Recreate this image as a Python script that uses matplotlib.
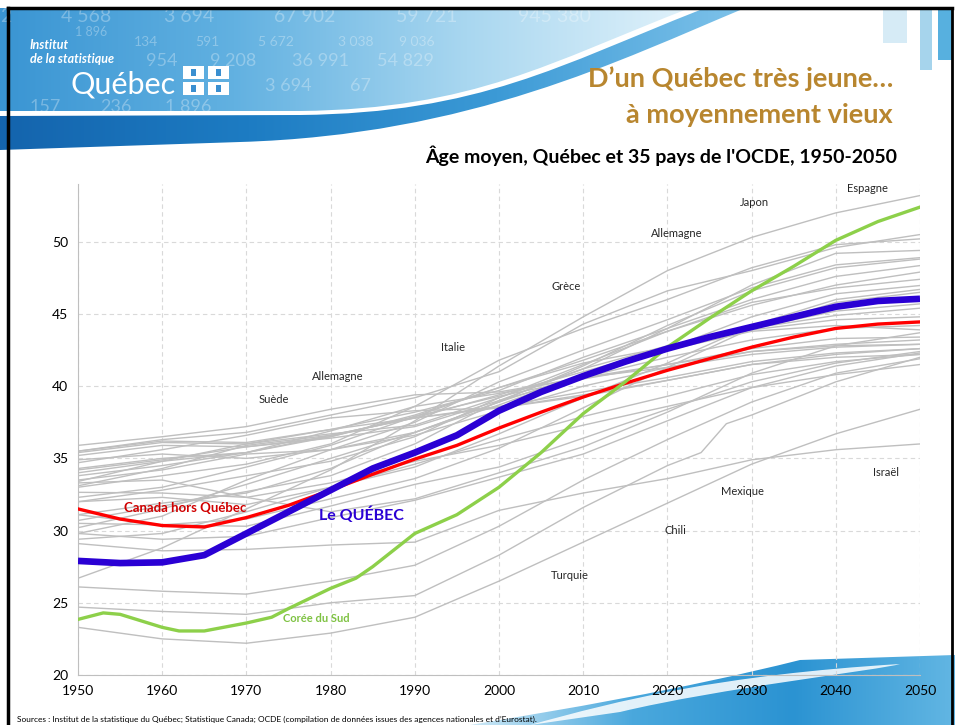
import numpy as np
import matplotlib
matplotlib.use('Agg')
import matplotlib.pyplot as plt
from matplotlib.path import Path
from matplotlib.patches import PathPatch, Rectangle
from matplotlib.colors import LinearSegmentedColormap

plt.rcParams['font.family'] = ['Lato', 'DejaVu Sans']

# ---- data (âge moyen) ----
years = [1950, 1960, 1970, 1980, 1990, 2000, 2010, 2020, 2030, 2040, 2050]

# autres pays de l'OCDE, en gris
gray_lines = [
    [35.9, 36.5, 37.2, 38.4, 39.4, 39.6, 40.6, 41.3, 42.2, 42.7, 42.9],  # Suède
    [35.5, 36.3, 36.8, 38.0, 39.2, 41.0, 44.3, 46.6, 48.0, 49.6, 50.5],  # Allemagne
    [33.0, 33.8, 34.6, 36.0, 38.6, 41.8, 44.0, 46.0, 48.2, 49.8, 50.2],  # Italie
    [30.7, 31.7, 32.7, 33.8, 36.0, 39.0, 41.2, 44.0, 47.0, 49.2, 49.4],  # Espagne
    [29.8, 31.0, 33.5, 35.6, 37.5, 40.3, 42.5, 44.6, 46.8, 48.4, 48.9],  # Grèce
    [30.2, 31.5, 33.2, 35.0, 36.8, 38.9, 41.4, 44.2, 46.6, 48.2, 48.8],  # Portugal
    [35.4, 36.1, 36.0, 37.0, 38.2, 39.7, 42.0, 44.0, 46.0, 47.6, 48.35],  # Autriche
    [34.3, 35.0, 35.4, 36.5, 38.0, 39.9, 41.8, 43.8, 45.6, 47.0, 47.9],  # Suisse
    [32.0, 32.8, 33.8, 34.8, 36.5, 39.2, 41.5, 43.8, 45.8, 46.8, 47.4],  # Slovénie
    [33.5, 34.2, 35.3, 35.6, 36.8, 38.9, 40.8, 42.6, 44.8, 46.4, 46.97],  # Tchéquie
    [29.4, 29.8, 31.3, 33.0, 34.4, 36.7, 39.2, 41.6, 44.2, 46.0, 46.7],  # Pologne
    [30.5, 30.4, 30.8, 32.2, 33.6, 35.7, 38.5, 41.3, 44.0, 45.8, 46.5],  # Slovaquie
    [33.4, 34.8, 36.0, 36.7, 37.3, 39.2, 41.2, 42.8, 44.0, 45.2, 45.7],  # Lettonie
    [33.1, 34.3, 35.9, 36.6, 37.8, 39.4, 41.0, 42.6, 44.0, 44.9, 45.4],  # Hongrie
    [32.3, 33.0, 34.4, 35.9, 37.9, 39.9, 41.6, 42.7, 43.9, 44.6, 44.8],  # Finlande
    [34.2, 34.9, 35.8, 36.4, 37.2, 39.0, 40.6, 42.0, 43.2, 44.0, 44.2],  # Estonie
    [31.1, 31.9, 32.6, 34.3, 36.8, 38.7, 40.8, 42.5, 43.8, 44.2, 43.9],  # Pays-Bas
    [33.3, 33.5, 32.3, 31.3, 32.2, 34.0, 35.8, 38.2, 40.9, 42.8, 43.7],  # Irlande
    [34.0, 34.8, 35.4, 36.9, 38.6, 39.5, 40.6, 41.5, 42.6, 43.3, 43.4],  # Danemark
    [35.2, 35.9, 35.8, 36.5, 37.9, 39.3, 40.5, 41.5, 42.4, 42.9, 43.2],  # Belgique
    [34.9, 35.3, 35.0, 35.6, 36.6, 38.3, 40.0, 41.3, 42.4, 42.8, 42.9],  # France
    [35.5, 36.2, 36.1, 37.0, 37.8, 38.6, 39.6, 40.6, 41.7, 42.3, 42.6],  # Royaume-Uni
    [34.7, 35.6, 36.6, 37.8, 38.3, 38.5, 39.3, 40.4, 41.5, 42.0, 42.2],  # Luxembourg
    [33.8, 34.5, 35.4, 36.6, 37.8, 38.5, 39.4, 40.4, 41.5, 42.2, 42.6],  # Norvège
    [32.65, 32.6, 32.3, 33.3, 34.8, 35.9, 37.3, 38.6, 39.9, 40.8, 41.5],  # États-Unis
    [32.0, 32.3, 31.8, 33.0, 34.6, 36.3, 37.9, 39.3, 40.8, 41.7, 42.2],  # Australie
    [31.1, 30.4, 30.3, 31.7, 33.2, 34.4, 36.4, 38.4, 40.3, 41.6, 42.4],  # Nouvelle-Zélande
    [29.8, 29.4, 29.6, 30.9, 32.1, 33.7, 35.3, 37.6, 39.9, 41.4, 42.3],  # Islande
    [26.7, 28.8, 31.5, 34.2, 37.6, 41.4, 44.8, 48.0, 50.3, 52.0, 53.2],  # Japon
    [29.1, 28.6, 28.7, 29.0, 29.2, 31.4, 32.6, 33.6, 34.9, 35.6, 36.0],  # Israël
    [26.1, 25.8, 25.6, 26.5, 27.6, 30.3, 33.5, 36.3, 38.9, 40.9, 41.9],  # Chili
    [23.3, 22.5, 22.2, 22.9, 24.0, 26.5, 29.2, 31.9, 34.6, 36.7, 38.4],  # Turquie
]
mexique_years = [1950, 1960, 1970, 1980, 1990, 2000, 2010, 2020, 2024, 2027, 2030, 2040, 2050]
mexique_ages = [24.7, 24.4, 24.2, 25.0, 25.5, 28.3, 31.6, 34.5, 35.4, 37.4, 38.0, 40.3, 42.0]

years5 = list(range(1950, 2051, 5))
quebec = [27.9, 27.75, 27.8, 28.3, 29.8, 31.3, 32.8, 34.3, 35.4, 36.6, 38.3,
          39.6, 40.7, 41.7, 42.6, 43.4, 44.1, 44.8, 45.5, 45.9, 46.05]
canada_hq = [31.5, 30.8, 30.35, 30.25, 30.9, 31.75, 32.8, 33.9, 34.95, 35.9, 37.1,
             38.2, 39.25, 40.2, 41.1, 41.9, 42.7, 43.4, 44.0, 44.3, 44.45]
coree_years = [1950, 1953, 1955, 1960, 1962, 1965, 1970, 1973, 1975, 1980, 1983, 1985,
               1990, 1995, 2000, 2005, 2010, 2015, 2020, 2025, 2030, 2035, 2040, 2045, 2050]
coree = [23.85, 24.3, 24.2, 23.3, 23.05, 23.05, 23.6, 24.0, 24.6, 26.0, 26.7, 27.5,
         29.8, 31.1, 33.0, 35.4, 38.1, 40.3, 42.7, 44.7, 46.6, 48.3, 50.1, 51.4, 52.4]

country_labels = [
    ('Suède', 1973.3, 39.1), ('Allemagne', 1980.9, 40.7), ('Italie', 1994.5, 42.7),
    ('Grèce', 2008.0, 46.9), ('Allemagne', 2021.1, 50.6), ('Japon', 2030.3, 52.7),
    ('Espagne', 2043.8, 53.7), ('Israël', 2046.0, 34.05), ('Mexique', 2028.9, 32.7),
    ('Chili', 2021.0, 30.0), ('Turquie', 2008.4, 26.9),
]

# ---- figure ----
fig = plt.figure(figsize=(9.55, 7.25), dpi=100)
bg = fig.add_axes([0, 0, 1, 1], zorder=0)
bg.set_xlim(0, 955)
bg.set_ylim(725, 0)
bg.axis('off')

# bandeau bleu en haut a gauche
light = Path([(0, 8), (690, 8), (550, 62), (475, 109), (300, 111), (0, 111), (0, 8)],
             [Path.MOVETO, Path.LINETO, Path.CURVE4, Path.CURVE4, Path.CURVE4,
              Path.LINETO, Path.CLOSEPOLY])
light_patch = PathPatch(light, fc='none', ec='none')
bg.add_patch(light_patch)
grad = np.linspace(0, 1, 256).reshape(1, -1)
cm1 = LinearSegmentedColormap.from_list('b1', ['#3a95d3', '#62b1e1', '#a9d7f0', '#e3f3fb'])
im1 = bg.imshow(grad, extent=[0, 700, 115, 8], cmap=cm1, aspect='auto', zorder=1)
im1.set_clip_path(light_patch)

dark = Path([(0, 116), (300, 115), (480, 113), (560, 65), (700, 10), (745, 8),
             (620, 60), (470, 135), (240, 142), (0, 150), (0, 116)],
            [Path.MOVETO, Path.LINETO, Path.CURVE4, Path.CURVE4, Path.CURVE4,
             Path.LINETO, Path.CURVE4, Path.CURVE4, Path.CURVE4, Path.LINETO, Path.CLOSEPOLY])
dark_patch = PathPatch(dark, fc='none', ec='none')
bg.add_patch(dark_patch)
cm2 = LinearSegmentedColormap.from_list('b2', ['#1464ad', '#1d7cc3', '#3c9ad6', '#7fc3ea'])
im2 = bg.imshow(grad, extent=[0, 745, 150, 8], cmap=cm2, aspect='auto', zorder=1)
im2.set_clip_path(dark_patch)

# chiffres en filigrane
for txt, x, y, s in [('2', 0, 16, 14), ('4 568', 61, 16, 14), ('3 694', 164, 16, 14),
                     ('67 902', 274, 16, 14), ('59 721', 396, 16, 14), ('945 380', 518, 16, 14),
                     ('1 896', 75, 32, 9), ('134', 134, 42, 10), ('591', 195, 42, 10),
                     ('5 672', 258, 42, 10), ('3 038', 338, 42, 10), ('9 036', 399, 42, 10),
                     ('954', 146, 61, 13), ('9 208', 210, 61, 13), ('36 991', 292, 61, 13),
                     ('54 829', 377, 61, 13), ('3 694', 265, 86, 13), ('67', 350, 86, 13),
                     ('157', 30, 107, 13), ('236', 100, 107, 13), ('1 896', 165, 107, 13)]:
    bg.text(x, y, txt, color='white', alpha=0.3, fontsize=s, va='center', ha='left', zorder=2)

bg.text(30, 45, 'Institut', color='white', fontsize=9, fontweight='bold', style='italic',
        va='center', zorder=3)
bg.text(30, 59, 'de la statistique', color='white', fontsize=9, fontweight='bold',
        style='italic', va='center', zorder=3)
bg.text(70, 84, 'Québec', color='white', fontsize=22, va='center', zorder=3)
for fx, fy in [(183, 66), (208, 66), (183, 82), (208, 82)]:
    bg.add_patch(Rectangle((fx, fy), 21, 13, fc='white', ec='none', zorder=3))
    bg.add_patch(Rectangle((fx + 8, fy + 3), 5, 7, fc='#3a8fd0', ec='none', zorder=3))

# barres en haut a droite
bg.add_patch(Rectangle((883, 8), 24, 35, fc='#d6ebf6', ec='none', zorder=1))
bg.add_patch(Rectangle((920, 8), 12, 62, fc='#a6d4ec', ec='none', zorder=1))
bg.add_patch(Rectangle((938, 8), 14, 52, fc='#57b0df', ec='none', zorder=1))

# vague en bas a droite
wave = Path([(470, 725), (560, 710), (680, 690), (800, 660), (955, 655), (955, 725), (470, 725)],
            [Path.MOVETO, Path.CURVE4, Path.CURVE4, Path.CURVE4, Path.LINETO, Path.LINETO,
             Path.CLOSEPOLY])
wave_patch = PathPatch(wave, fc='none', ec='none')
bg.add_patch(wave_patch)
cm3 = LinearSegmentedColormap.from_list('b3', ['#cfe9f6', '#4aa8dd', '#2b93d2', '#62b6e3'])
im3 = bg.imshow(grad, extent=[470, 955, 725, 650], cmap=cm3, aspect='auto', zorder=1)
im3.set_clip_path(wave_patch)
swoosh = Path([(530, 725), (620, 700), (720, 675), (900, 664), (880, 670), (720, 688),
               (620, 712), (560, 725)],
              [Path.MOVETO, Path.CURVE4, Path.CURVE4, Path.CURVE4, Path.CURVE4, Path.CURVE4,
               Path.CURVE4, Path.CLOSEPOLY])
bg.add_patch(PathPatch(swoosh, fc='white', ec='none', alpha=0.85, zorder=1))

# cadre noir
bg.plot([8, 8], [8, 725], color='black', lw=2.5, zorder=5)
bg.plot([8, 952], [8, 8], color='black', lw=2.5, zorder=5)
bg.plot([952, 952], [8, 725], color='black', lw=2.0, zorder=5)
bg.set_xlim(0, 955)
bg.set_ylim(725, 0)

# titres
bg.text(893, 79, 'D\u2019un Québec très jeune\u2026', color='#b8862f', fontsize=19.5,
        fontweight='bold', ha='right', va='center', zorder=3)
bg.text(893, 115, 'à moyennement vieux', color='#b8862f', fontsize=19.5,
        fontweight='bold', ha='right', va='center', zorder=3)
bg.text(897, 156, "Âge moyen, Québec et 35 pays de l'OCDE, 1950-2050", color='black',
        fontsize=14, fontweight='bold', ha='right', va='center', zorder=3)
bg.text(17, 719, 'Sources : Institut de la statistique du Québec; Statistique Canada; OCDE '
        '(compilation de données issues des agences nationales et d\u2019Eurostat).',
        fontsize=6, ha='left', va='center', zorder=3)

# ---- graphique ----
ax = fig.add_axes([78 / 955, 1 - 675 / 725, 842 / 955, 491 / 725], zorder=2)
ax.patch.set_alpha(0)

for ages in gray_lines:
    ax.plot(years, ages, color='#bfbfbf', lw=1.0, zorder=2)
ax.plot(mexique_years, mexique_ages, color='#bfbfbf', lw=1.0, zorder=2)

ax.plot(years5, canada_hq, color='#ff0000', lw=2.4, zorder=4)
ax.plot(coree_years, coree, color='#8dd04a', lw=2.4, zorder=5)
ax.plot(years5, quebec, color='#2a00d4', lw=4.8, zorder=6, solid_capstyle='butt')

for name, x, y in country_labels:
    ax.text(x, y, name, fontsize=8, color='#262626', ha='center', va='center', zorder=7)

ax.text(1962.7, 31.55, 'Canada hors Québec', color='#d00000', fontsize=9.5,
        fontweight='bold', ha='center', va='center', zorder=7)
ax.text(1983.7, 31.1, 'Le QUÉBEC', color='#2a00d4', fontsize=11.5,
        fontweight='bold', ha='center', va='center', zorder=7)
ax.text(1978.3, 23.9, 'Corée du Sud', color='#7ec242', fontsize=8,
        fontweight='bold', ha='center', va='center', zorder=7)

ax.set_xlim(1950, 2050)
ax.set_ylim(20, 54)
ax.set_xticks(range(1950, 2051, 10))
ax.set_yticks(range(20, 51, 5))
ax.grid(True, ls=(0, (4, 3)), color='#d9d9d9', lw=0.8, zorder=1)
ax.set_axisbelow(True)
for s in ['top', 'right']:
    ax.spines[s].set_visible(False)
for s in ['left', 'bottom']:
    ax.spines[s].set_color('#bfbfbf')
ax.tick_params(length=0, labelsize=10, pad=7)

fig.savefig('out.png', dpi=100)
